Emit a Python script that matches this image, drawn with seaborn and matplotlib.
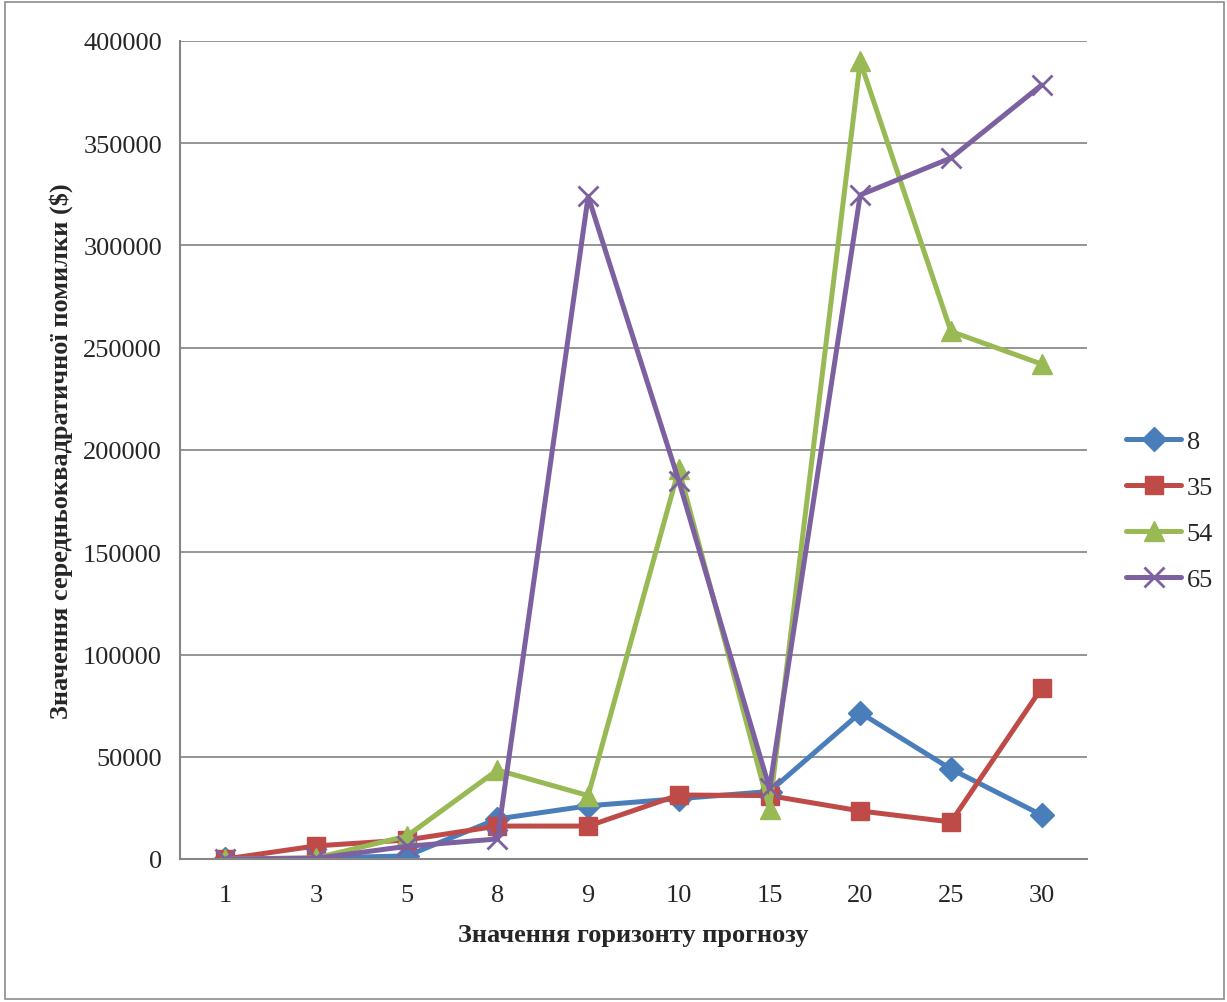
import matplotlib
matplotlib.use("Agg")
import matplotlib.pyplot as plt
import seaborn as sns
import pandas as pd
import numpy as np
from matplotlib.patches import Rectangle

horizons = ["1", "3", "5", "8", "9", "10", "15", "20", "25", "30"]
s8 = [0, 500, 1500, 19600, 26000, 29500, 33000, 71500, 44000, 21500]
s35 = [0, 6400, 9300, 16100, 16100, 31300, 31000, 23500, 18100, 83600]
s54 = [0, 500, 11200, 43500, 31000, 190700, 24500, 390000, 258000, 242000]
s65 = [0, 300, 6200, 9800, 324000, 184800, 34500, 324700, 342800, 378500]

series = {"8": s8, "35": s35, "54": s54, "65": s65}
colors = {"8": "#4A7EBB", "35": "#BE4B48", "54": "#98B954", "65": "#7D60A0"}
markers = {"8": "D", "35": "s", "54": "^", "65": "x"}
msizes = {"8": 12, "35": 13.5, "54": 14, "65": 14}

sns.set_theme(style="white")
plt.rcParams["font.family"] = ["Liberation Serif", "DejaVu Serif"]

fig = plt.figure(figsize=(12.27, 10.03), dpi=100)
ax = fig.add_axes([180/1227, 1 - 860/1003, (1087-180)/1227, (860-42)/1003])

rows = []
for name, vals in series.items():
    for i, v in enumerate(vals):
        rows.append({"pos": i, "value": v, "series": name})
df = pd.DataFrame(rows)

for name in series:
    sub = df[df["series"] == name]
    sns.lineplot(data=sub, x="pos", y="value", ax=ax, color=colors[name],
                 linewidth=3.6, marker=markers[name], markersize=msizes[name],
                 markeredgecolor=colors[name], markeredgewidth=2 if name == "65" else 1,
                 label=name)

FS = 19
ax.set_xlim(-0.5, 9.5)
ax.set_ylim(0, 400000)
ax.set_yticks(np.arange(0, 400001, 50000))
ax.set_yticklabels([str(int(v)) for v in np.arange(0, 400001, 50000)], fontsize=FS)
ax.set_xticks(range(len(horizons)))
ax.set_xticklabels(horizons, fontsize=FS)
ax.set_xticks(np.arange(-0.5, 10, 1), minor=True)
ax.tick_params(axis="x", which="major", length=0, pad=18)
ax.tick_params(axis="x", which="minor", length=7, color="#868686", width=1.5, direction="out")
ax.tick_params(axis="y", which="major", length=7, color="#868686", width=1.5, direction="out", pad=6)
ax.grid(axis="y", color="#8C8C8C", linewidth=1.3)
ax.grid(axis="x", visible=False)
ax.set_axisbelow(True)
for sp in ["top", "right"]:
    ax.spines[sp].set_visible(False)
for sp in ["left", "bottom"]:
    ax.spines[sp].set_color("#868686")
    ax.spines[sp].set_linewidth(1.5)

ax.set_xlabel("Значення горизонту прогнозу", fontsize=FS, fontweight="bold", labelpad=12)
ax.set_ylabel("Значення середньоквадратичної помилки ($)", fontsize=FS, fontweight="bold", labelpad=7)

ax.legend(loc="center left", bbox_to_anchor=(1.043, 0.426), frameon=False, fontsize=FS,
          handlelength=2.1, labelspacing=0.85, handletextpad=0.2, borderpad=0, borderaxespad=0)

fig.patches.append(Rectangle((5/1227, 3/1003), 1 - 8/1227, 1 - 6/1003, transform=fig.transFigure,
                             fill=False, edgecolor="#8C8C8C", linewidth=1.2))

fig.savefig("out.png", dpi=100)
